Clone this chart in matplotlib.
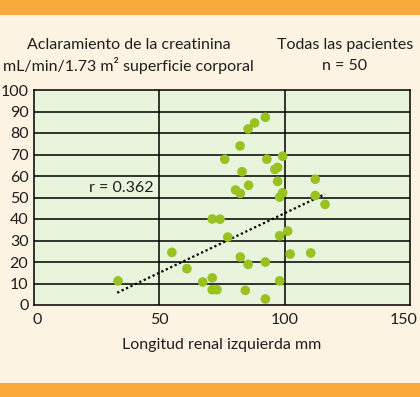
import matplotlib
matplotlib.use("Agg")
import matplotlib.pyplot as plt
from matplotlib.patches import Rectangle
from matplotlib.transforms import ScaledTranslation

plt.rcParams['font.family'] = ['Lato', 'DejaVu Sans']

# data
longitud = [33.5, 55.0, 61.0, 67.3, 71.1, 71.1, 73.0, 71.1, 74.2, 77.3,
            76.1, 82.2, 83.0, 80.4, 82.3, 85.6, 85.4, 88.0, 92.3, 92.9,
            99.2, 96.1, 97.2, 97.2, 99.2, 98.0, 82.3, 85.4, 92.3, 84.3,
            92.3, 98.0, 98.0, 101.2, 102.2, 110.4, 112.2, 112.2, 116.1]
aclaramiento = [11.2, 24.5, 16.9, 10.7, 12.6, 7.1, 7.1, 40.0, 39.9, 31.6,
                67.8, 74.0, 62.0, 53.5, 51.9, 55.7, 81.9, 84.7, 87.3, 67.8,
                69.2, 63.1, 64.0, 57.5, 52.2, 50.2, 22.3, 18.9, 20.0, 6.8,
                2.8, 11.2, 32.2, 34.4, 23.7, 24.2, 58.5, 50.9, 46.8]
fit_x = [33.2, 116.1]
fit_y = [5.7, 51.6]
x_ticks = [0, 50, 100, 150]
y_ticks = [0, 10, 20, 30, 40, 50, 60, 70, 80, 90, 100]

W, H = 420, 397
fig = plt.figure(figsize=(W / 100, H / 100), dpi=100)
fig.patch.set_facecolor('#FDF3E2')
orange = '#F9A83A'
fig.patches.append(Rectangle((0, 1 - 15 / H), 1, 15 / H, transform=fig.transFigure,
                             facecolor=orange, edgecolor='none', zorder=0))
fig.patches.append(Rectangle((0, 0), 1, 14 / H, transform=fig.transFigure,
                             facecolor=orange, edgecolor='none', zorder=0))

ax = fig.add_axes([34 / W, (H - 305) / H, (410 - 34) / W, (305 - 90) / H])
ax.set_facecolor('#E8F4DC')
ax.set_xlim(0, 150)
ax.set_ylim(0, 100)

for y in y_ticks[1:-1]:
    ax.axhline(y, color='black', lw=1.1, zorder=1)
for x in x_ticks[1:-1]:
    ax.axvline(x, color='black', lw=1.1, zorder=1)
for s in ax.spines.values():
    s.set_linewidth(1.1)
    s.set_color('black')

ax.plot(fit_x, fit_y, color='black', lw=1.6, linestyle=(0, (1, 1.2)), zorder=2)
ax.scatter(longitud, aclaramiento, s=48, color='#97C220', edgecolors='none', zorder=3)

ax.set_xticks(x_ticks)
ax.set_yticks(y_ticks)
ax.tick_params(length=0, labelsize=11.5, colors='#1E1E1E', pad=4)
ax.tick_params(axis='x', pad=6)
ax.set_xlabel('Longitud renal izquierda mm', fontsize=11.5, color='#1E1E1E', labelpad=8)

# shift first and last x tick labels slightly inward, as in the reference
xl = ax.get_xticklabels()
xl[0].set_transform(xl[0].get_transform() + ScaledTranslation(3 / 100, 0, fig.dpi_scale_trans))
xl[-1].set_transform(xl[-1].get_transform() + ScaledTranslation(-6 / 100, 0, fig.dpi_scale_trans))

ax.text(22, 54.4, 'r = 0.362', fontsize=11.5, color='#1E1E1E', va='center', ha='left')

fig.text(129 / W, 1 - 45 / H, 'Aclaramiento de la creatinina', fontsize=11.5,
         ha='center', va='center', color='#1E1E1E')
fig.text(128 / W, 1 - 66 / H, 'mL/min/1.73 m\u00b2 superficie corporal', fontsize=11.5,
         ha='center', va='center', color='#1E1E1E')
fig.text(345 / W, 1 - 45 / H, 'Todas las pacientes', fontsize=11.5,
         ha='center', va='center', color='#1E1E1E')
fig.text(345 / W, 1 - 66 / H, 'n = 50', fontsize=11.5,
         ha='center', va='center', color='#1E1E1E')

fig.savefig('out.png', dpi=100, facecolor=fig.get_facecolor())
